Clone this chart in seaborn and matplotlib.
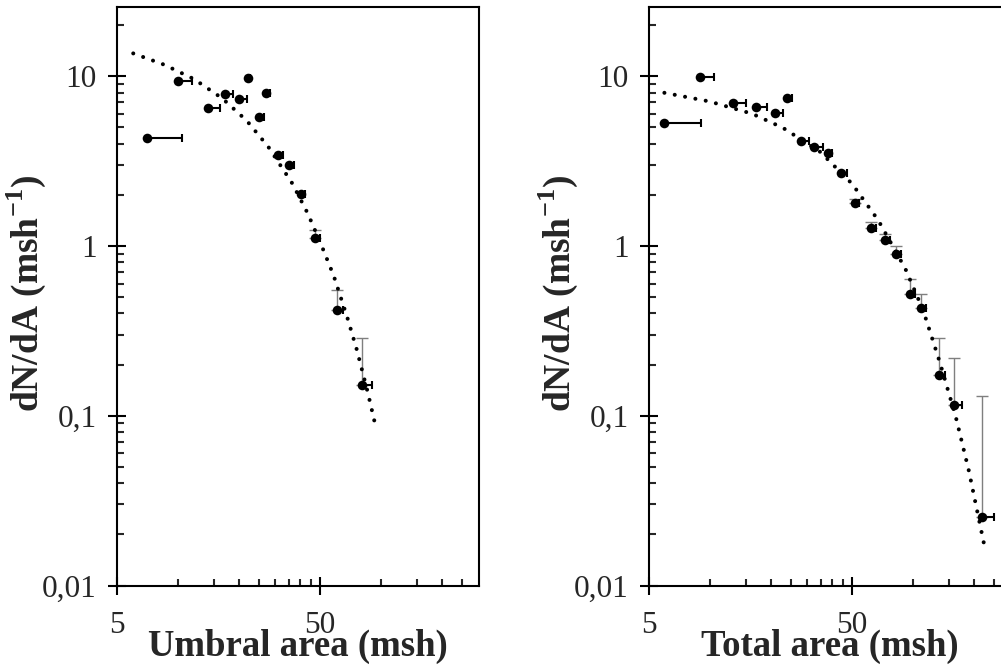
import numpy as np
import pandas as pd
import seaborn as sns
import matplotlib
matplotlib.use("Agg")
import matplotlib.pyplot as plt
from matplotlib.ticker import FixedLocator, FixedFormatter, NullFormatter

# umbral area distribution
umb_x = [7.0, 10.0, 14.0, 17.1, 19.9, 22.0, 25.1, 27.0, 30.9, 35.1, 40.2, 47.2, 60.4, 80.2]
umb_y = [4.33, 9.38, 6.45, 7.83, 7.29, 9.8, 5.75, 7.9, 3.42, 2.99, 2.01, 1.115, 0.422, 0.152]
umb_xerr = [3.5, 1.7, 2.1, 1.6, 1.9, 0.7, 1.4, 1.2, 2.1, 2.2, 1.9, 2.8, 4.6, 9.7]
umb_yerr = [0, 0, 0, 0, 0, 0, 0, 0, 0, 0, 0, 0.125, 0.131, 0.135]
umb_fit_x = [6.01, 8.55, 11.97, 16.5, 21.8, 27.8, 36.5, 43.5, 50.6, 58.4, 68.2, 75.8, 85.9, 93.6]
umb_fit_y = [13.6, 11.66, 9.60, 7.39, 5.45, 3.83, 2.33, 1.55, 1.019, 0.665, 0.376, 0.245, 0.1368, 0.0878]

# total area distribution
tot_x = [5.95, 8.94, 13.0, 16.9, 20.9, 24.0, 27.96, 32.5, 38.2, 44.1, 51.9, 61.6, 72.3, 82.6,
         96.1, 109.8, 134.4, 159.4, 217.5]
tot_y = [5.26, 9.9, 6.96, 6.54, 6.08, 7.45, 4.16, 3.83, 3.53, 2.67, 1.80, 1.266, 1.09, 0.893,
         0.524, 0.428, 0.173, 0.1162, 0.0253]
tot_xerr = [3.1, 1.56, 2.05, 2.2, 2.0, 1.2, 2.74, 3.3, 1.8, 2.9, 2.1, 4.1, 4.2, 4.2,
            5.6, 6.2, 8.8, 13.6, 33.5]
tot_yerr = [0, 0, 0, 0, 0, 0, 0, 0, 0, 0, 0.08, 0.119, 0.09, 0.103,
            0.113, 0.096, 0.112, 0.103, 0.105]
tot_fit_x = [5.95, 9.91, 16.1, 22.8, 34.8, 50, 67.2, 91.5, 112, 135.3, 161.7, 187.6, 224.4]
tot_fit_y = [7.97, 7.09, 6.0, 4.96, 3.58, 2.32, 1.417, 0.732, 0.416, 0.2055, 0.0992, 0.0477, 0.0170]

x_major = [5, 50]
x_minor = [10, 15, 20, 25, 30, 35, 40, 45, 100, 150, 200, 250]
y_major = [0.01, 0.1, 1, 10]
y_labels = ["0,01", "0,1", "1", "10"]

sns.set_style("ticks")
plt.rcParams["font.family"] = ["Liberation Serif", "DejaVu Serif"]
plt.rcParams["mathtext.fontset"] = "custom"
plt.rcParams["mathtext.rm"] = "Liberation Serif"
plt.rcParams["mathtext.bf"] = "Liberation Serif:bold"

fig = plt.figure(figsize=(10.01, 6.7), dpi=100)
ax1 = fig.add_axes([0.1169, 0.1261, 0.3616, 0.8634])
ax2 = fig.add_axes([0.6484, 0.1261, 0.3616, 0.8634])

panels = [
    (ax1, umb_x, umb_y, umb_xerr, umb_yerr, umb_fit_x, umb_fit_y, "Umbral area (msh)"),
    (ax2, tot_x, tot_y, tot_xerr, tot_yerr, tot_fit_x, tot_fit_y, "Total area (msh)"),
]

for ax, x, y, xe, ye, fx, fy, xlabel in panels:
    df = pd.DataFrame({"x": x, "y": y, "xe": xe, "ye": ye})
    fit = pd.DataFrame({"x": fx, "y": fy})
    ax.set_xscale("log")
    ax.set_yscale("log")

    # upper y errors (grey) and right x errors (black)
    sub = df[df["ye"] > 0]
    ax.errorbar(sub["x"], sub["y"], yerr=[np.zeros(len(sub)), sub["ye"]], fmt="none",
                ecolor="#7f7f7f", elinewidth=1.0, capsize=4, capthick=1.0, zorder=2)
    ax.errorbar(df["x"], df["y"], xerr=[np.zeros(len(df)), df["xe"]], fmt="none",
                ecolor="black", elinewidth=1.5, capsize=3, capthick=1.5, zorder=2)

    sns.lineplot(data=fit, x="x", y="y", ax=ax, color="black", sort=False,
                 linewidth=2.9, linestyle=(0, (0.01, 2.6)), dash_capstyle="round", zorder=3)
    sns.scatterplot(data=df, x="x", y="y", ax=ax, color="black", s=48,
                    edgecolor="black", linewidth=0, zorder=4)

    ax.set_xlim(5, 303)
    ax.set_ylim(0.01, 25.5)

    ax.xaxis.set_major_locator(FixedLocator(x_major))
    ax.xaxis.set_major_formatter(FixedFormatter([str(v) for v in x_major]))
    ax.xaxis.set_minor_locator(FixedLocator(x_minor))
    ax.xaxis.set_minor_formatter(NullFormatter())
    ax.yaxis.set_major_locator(FixedLocator(y_major))
    ax.yaxis.set_major_formatter(FixedFormatter(y_labels))

    ax.tick_params(axis="both", which="major", direction="inout", length=13, width=1.5,
                   labelsize=22.5, color="black")
    ax.tick_params(axis="x", which="major", pad=12)
    ax.tick_params(axis="y", which="major", pad=8)
    ax.tick_params(axis="both", which="minor", direction="in", length=5, width=1.5)

    for s in ax.spines.values():
        s.set_visible(True)
        s.set_linewidth(1.5)
        s.set_color("black")

    ax.set_xlabel(xlabel, fontsize=26.5, fontweight="bold")
    ax.set_ylabel(r"dN/dA (msh$^{\mathbf{-1}}$)", fontsize=27, fontweight="bold")
    ax.xaxis.set_label_coords(0.5, -0.075)
    ax.yaxis.set_label_coords(-0.19, 0.505)

fig.savefig("out.png", dpi=100)
